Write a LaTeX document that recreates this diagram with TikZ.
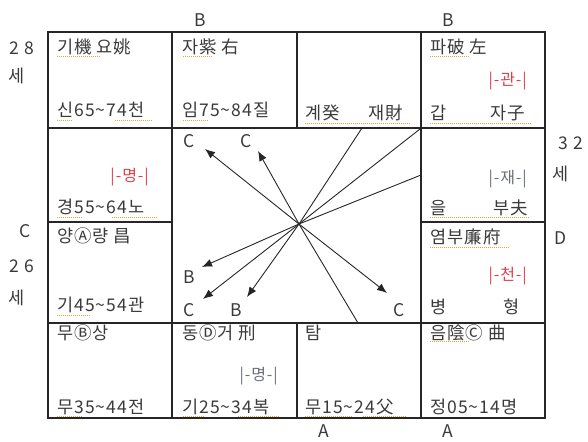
\documentclass[tikz,border=0pt]{standalone}
\usepackage{fontspec}
\setmainfont{Noto Sans CJK KR}[LetterSpace=6]
\usetikzlibrary{arrows.meta}
\definecolor{ink}{HTML}{3A3A3A}
\definecolor{redlab}{HTML}{E0404A}
\definecolor{graylab}{HTML}{6A6F78}
\definecolor{spellc}{HTML}{F0A030}
\begin{document}
\begin{tikzpicture}[x=1pt,y=-1pt,
  txt/.style={anchor=base west, inner sep=0pt, text=ink, font=\fontsize{17.5}{17.5}\selectfont},
  rtxt/.style={anchor=base east, inner sep=0pt, font=\fontsize{16}{16}\selectfont},
  lab/.style={anchor=center, inner sep=0pt, text=ink, font=\fontsize{17.5}{17.5}\selectfont},
  grid/.style={draw=black!85, line width=1.2pt},
  ray/.style={draw=black!85, line width=0.9pt},
  arr/.style={ray, -{Latex[length=10pt,width=8pt]}},
  spell/.style={draw=spellc, line width=1pt, dash pattern=on 1pt off 1pt}]
\useasboundingbox (0,0) rectangle (588,441);
% grid
\draw[grid] (48,32) rectangle (545,418);
\draw[grid] (172,32) -- (172,128);
\draw[grid] (297,32) -- (297,128);
\draw[grid] (421,32) -- (421,418);
\draw[grid] (172,128) -- (172,418);
\draw[grid] (297,323) -- (297,418);
\draw[grid] (48,128) -- (545,128);
\draw[grid] (48,222) -- (172,222);
\draw[grid] (421,222) -- (545,222);
\draw[grid] (48,323) -- (545,323);
% outer labels
\node[lab] (b1) at (200,20) {B};
\node[lab] (b2) at (448,20) {B};
\node[lab] (a1) at (324,431) {A};
\node[lab] (a2) at (448,431) {A};
\node[lab] (l28) at (22,48) {2 8};
\node[lab] (l28s) at (17,76) {세};
\node[lab] (lc) at (25,231) {C};
\node[lab] (l26) at (22,266) {2 6};
\node[lab] (l26s) at (17,298) {세};
\node[lab] (r32) at (571,143) {3 2};
\node[lab] (r32s) at (561,174) {세};
\node[lab] (rd) at (561,238) {D};
% row 1
\node[txt] (t11) at (57,54) {기機 요姚};
\node[txt] (b11) at (57,117) {신65\char`\~74천};
\node[txt] (t12) at (182,54) {자紫 右};
\node[txt] (b12) at (182,117) {임75\char`\~84질};
\node[txt] (b13a) at (305,120) {계癸};
\node[txt] (b13b) at (368,120) {재財};
\node[txt] (t14) at (430,54) {파破 左};
\node[rtxt, text=redlab] (m14) at (527,85) {|-관-|};
\node[txt] (b14a) at (430,120) {갑};
\node[txt] (b14b) at (490,120) {자子};
% row 2
\node[rtxt, text=redlab] (m21) at (149,181) {|-명-|};
\node[txt] (b21) at (57,213) {경55\char`\~64노};
\node[rtxt, text=graylab] (m24) at (527,183) {|-재-|};
\node[txt] (b24a) at (430,214) {을};
\node[txt] (b24b) at (493,214) {부夫};
% row 3
\node[txt] (t31) at (57,242) {양Ⓐ량 昌};
\node[txt] (b31) at (57,311) {기45\char`\~54관};
\node[txt] (t34) at (430,243) {염부廉府};
\node[rtxt, text=redlab] (m34) at (527,280) {|-천-|};
\node[txt] (b34a) at (430,313) {병};
\node[txt] (b34b) at (503,313) {형};
% row 4
\node[txt] (t41) at (57,339) {무Ⓑ상};
\node[txt] (b41) at (57,413) {무35\char`\~44전};
\node[txt] (t42) at (182,339) {동Ⓓ거 刑};
\node[rtxt, text=graylab] (m42) at (278,380) {|-명-|};
\node[txt] (b42) at (182,413) {기25\char`\~34복};
\node[txt] (t43) at (305,339) {탐};
\node[txt] (b43) at (305,413) {무15\char`\~24父};
\node[txt] (t44) at (430,339) {음陰Ⓒ 曲};
\node[txt] (b44) at (430,413) {정05\char`\~14명};
% spell-check underlines
\draw[spell] (57,57) -- (100,57);
\draw[spell] (183,57) -- (213,57);
\draw[spell] (430,57) -- (470,57);
\draw[spell] (57,120) -- (72,120) (115,120) -- (153,120);
\draw[spell] (183,120) -- (208,120);
\draw[spell] (305,123) -- (410,123);
\draw[spell] (430,123) -- (532,123);
\draw[spell] (57,217) -- (82,217) (112,217) -- (157,217);
\draw[spell] (430,217) -- (530,217);
\draw[spell] (430,247) -- (510,247);
\draw[spell] (57,315) -- (90,315);
\draw[spell] (430,341) -- (470,341);
\draw[spell] (57,416) -- (82,416);
\draw[spell] (183,416) -- (205,416) (238,416) -- (280,416);
\draw[spell] (305,416) -- (352,416) (363,416) -- (407,416);
% center rays
\coordinate (o) at (299,224);
\node[lab] (c1) at (189,141) {C};
\node[lab] (c2) at (246,141) {C};
\node[lab] (bb1) at (189,277) {B};
\node[lab] (c3) at (189,310) {C};
\node[lab] (bb2) at (236,310) {B};
\node[lab] (c4) at (399,310) {C};
\coordinate (h1) at (205,149);
\coordinate (h2) at (258,151);
\coordinate (h3) at (202,267);
\coordinate (h4) at (203,299);
\coordinate (h5) at (247,297);
\coordinate (h6) at (387,293);
\coordinate (e1) at (362,128);
\coordinate (e2) at (420,129);
\coordinate (e3) at (421,175);
\coordinate (e4) at (358,323);
\foreach \h in {h1,h2,h3,h4,h5,h6} \draw[arr] (o) -- (\h);
\foreach \e in {e1,e2,e3,e4} \draw[ray] (o) -- (\e);
\end{tikzpicture}
\end{document}
